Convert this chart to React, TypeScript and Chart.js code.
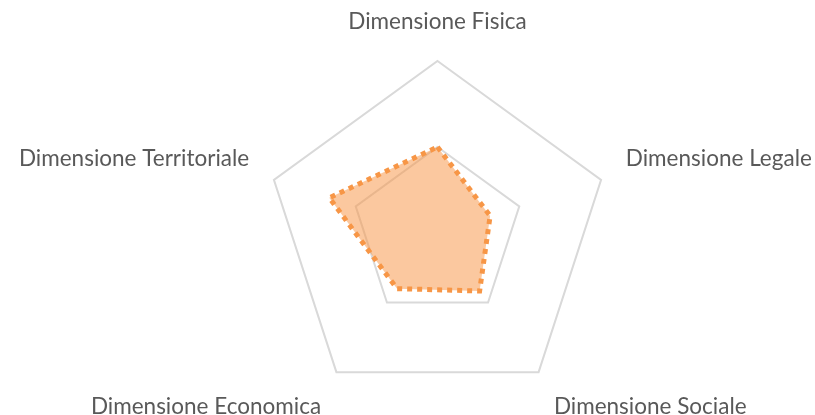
import React, { useEffect, useRef } from "react";
import { Chart, registerables } from "chart.js";

Chart.register(...registerables);

const categories = [
  "Dimensione Fisica",
  "Dimensione Legale",
  "Dimensione Sociale",
  "Dimensione Economica",
  "Dimensione Territoriale",
];
const values = [3.0, 1.93, 2.5, 2.4, 3.97];
const scaleMax = 6;
const scaleStep = 3;

const CENTER_X = 437.5;
const CENTER_Y = 233;
const RADIUS = 172;

export default function App() {
  const ref = useRef<HTMLCanvasElement | null>(null);
  useEffect(() => {
    if (!ref.current) return;
    const chart = new Chart(ref.current, {
      type: "radar",
      data: {
        labels: categories,
        datasets: [
          {
            data: values,
            borderColor: "#F79646",
            backgroundColor: "rgba(247,150,70,0.52)",
            borderWidth: 5,
            borderDash: [5, 5],
            borderCapStyle: "butt",
            pointRadius: 0,
            fill: true,
          },
        ],
      },
      options: {
        animation: false,
        responsive: true,
        maintainAspectRatio: false,
        plugins: { legend: { display: false }, tooltip: { enabled: false } },
        scales: {
          r: {
            min: 0,
            max: scaleMax,
            ticks: { stepSize: scaleStep, display: false },
            grid: { color: "#D9D9D9", lineWidth: 2 },
            angleLines: { display: false },
            pointLabels: {
              color: "#595959",
              padding: 26,
              font: { family: "Lato", size: 22.5 },
            },
            afterFit: (scale: any) => {
              const ox = scale.xCenter;
              const oy = scale.yCenter;
              const orr = scale.drawingArea;
              scale.xCenter = CENTER_X;
              scale.yCenter = CENTER_Y;
              scale.drawingArea = RADIUS;
              const items = scale._pointLabelItems || [];
              items.forEach((it: any, i: number) => {
                const p = scale.getPointPosition(i, 1);
                const ux = p.x - CENTER_X;
                const uy = p.y - CENTER_Y;
                const dx = CENTER_X - ox + (RADIUS - orr) * ux;
                const dy = CENTER_Y - oy + (RADIUS - orr) * uy;
                it.x += dx;
                it.left += dx;
                it.right += dx;
                it.y += dy;
                it.top += dy;
                it.bottom += dy;
              });
            },
          },
        },
      },
    });
    return () => chart.destroy();
  }, []);
  return (
    <div style={{ position: "absolute", left: 0, top: 0, width: 815, height: 415 }}>
      <canvas ref={ref} />
    </div>
  );
}
